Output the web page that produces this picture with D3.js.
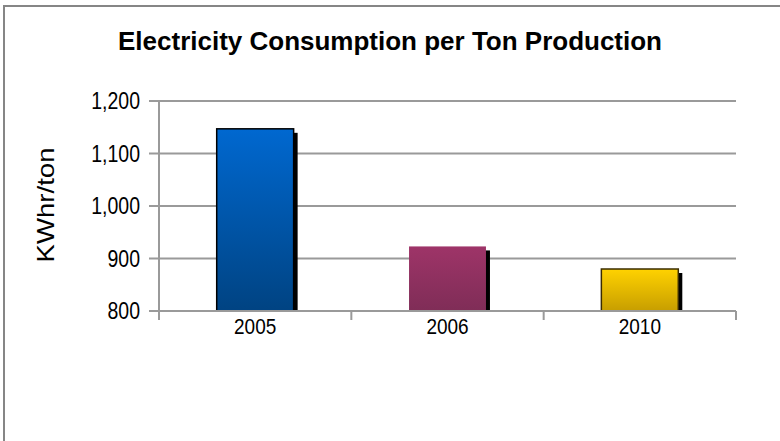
<!DOCTYPE html>
<html><head><meta charset="utf-8">
<script src="https://cdn.jsdelivr.net/npm/d3@7"></script>
<style>html,body{margin:0;padding:0;background:#fff;}svg{display:block;font-family:"Liberation Sans",Arial,sans-serif;}</style>
</head><body><svg id="c" width="780" height="441"></svg>
<script>
const categories = ["2005", "2006", "2010"];
const values = [1147, 923, 880];
const yTicks = [800, 900, 1000, 1100, 1200];
const topColors = ["#0068d0", "#9e3468", "#ffd200"];
const bottomColors = ["#004382", "#7f2d57", "#c79e00"];
const strokeColors = ["#000", "none", "#3a2c00"];
const title = "Electricity Consumption per Ton Production";
const yLabel = "KWhr/ton";

const svg = d3.select("#c");
const m = {l: 159, r: 736, t: 101, b: 311};
const x = d3.scaleBand().domain(categories).range([m.l, m.r]).paddingInner(0.6).paddingOuter(0.3);
const xb = d3.scaleBand().domain(categories).range([m.l, m.r]);
const y = d3.scaleLinear().domain([800, 1200]).range([m.b, m.t]);

// frame
svg.append("rect").attr("x", 4).attr("y", 6).attr("width", 800).attr("height", 460)
  .attr("fill", "#fff").attr("stroke", "#868686").attr("stroke-width", 2);

const defs = svg.append("defs");
categories.forEach((c, i) => {
  const g = defs.append("linearGradient").attr("id", "g" + i).attr("x1", 0).attr("y1", 0).attr("x2", 0).attr("y2", 1);
  g.append("stop").attr("offset", "0%").attr("stop-color", topColors[i]);
  g.append("stop").attr("offset", "100%").attr("stop-color", bottomColors[i]);
});

// gridlines
svg.append("g").selectAll("line").data(yTicks).join("line")
  .attr("x1", m.l - 10).attr("x2", m.r).attr("y1", d => y(d)).attr("y2", d => y(d))
  .attr("stroke", "#9a9a9a").attr("stroke-width", 2);

// left axis line
svg.append("line").attr("x1", m.l).attr("x2", m.l).attr("y1", m.t).attr("y2", m.b)
  .attr("stroke", "#9a9a9a").attr("stroke-width", 2);

// bottom ticks at band boundaries
const bounds = categories.map(c => xb(c)).concat([m.r]);
svg.append("g").selectAll("line").data(bounds).join("line")
  .attr("x1", d => d).attr("x2", d => d).attr("y1", m.b).attr("y2", m.b + 9)
  .attr("stroke", "#9a9a9a").attr("stroke-width", 2);

// shadows
svg.append("g").selectAll("rect").data(values).join("rect")
  .attr("x", (d, i) => x(categories[i]) + 4).attr("y", d => y(d) + 4)
  .attr("width", x.bandwidth()).attr("height", d => m.b - y(d) - 4)
  .attr("fill", "#000");

// bars
svg.append("g").selectAll("rect").data(values).join("rect")
  .attr("x", (d, i) => x(categories[i])).attr("y", d => y(d))
  .attr("width", x.bandwidth()).attr("height", d => m.b - y(d))
  .attr("fill", (d, i) => `url(#g${i})`)
  .attr("stroke", (d, i) => strokeColors[i]).attr("stroke-width", 1.5);

// bottom axis line over bars
svg.append("line").attr("x1", m.l).attr("x2", m.r).attr("y1", m.b).attr("y2", m.b)
  .attr("stroke", "#9a9a9a").attr("stroke-width", 2);

// y tick labels (slightly tall glyphs as in reference)
svg.append("g").selectAll("text").data(yTicks).join("text")
  .attr("transform", d => `translate(${m.l - 19},${y(d) + 8}) scale(1,1.18)`)
  .attr("text-anchor", "end").attr("font-size", 19.5).attr("fill", "#000")
  .text(d => d3.format(",")(d));

// x labels
svg.append("g").selectAll("text").data(categories).join("text")
  .attr("transform", d => `translate(${xb(d) + xb.bandwidth() / 2},334) scale(1,1.2)`)
  .attr("text-anchor", "middle").attr("font-size", 19).attr("fill", "#000")
  .text(d => d);

// title
svg.append("text").attr("x", 390).attr("y", 50).attr("text-anchor", "middle")
  .attr("font-size", 25).attr("font-weight", "bold").attr("fill", "#000")
  .attr("textLength", 544).attr("lengthAdjust", "spacingAndGlyphs").text(title);

// y label
svg.append("text").attr("transform", `translate(54,${205}) rotate(-90) scale(1.2,1)`)
  .attr("text-anchor", "middle").attr("font-size", 23).attr("fill", "#000").text(yLabel);
</script></body></html>
